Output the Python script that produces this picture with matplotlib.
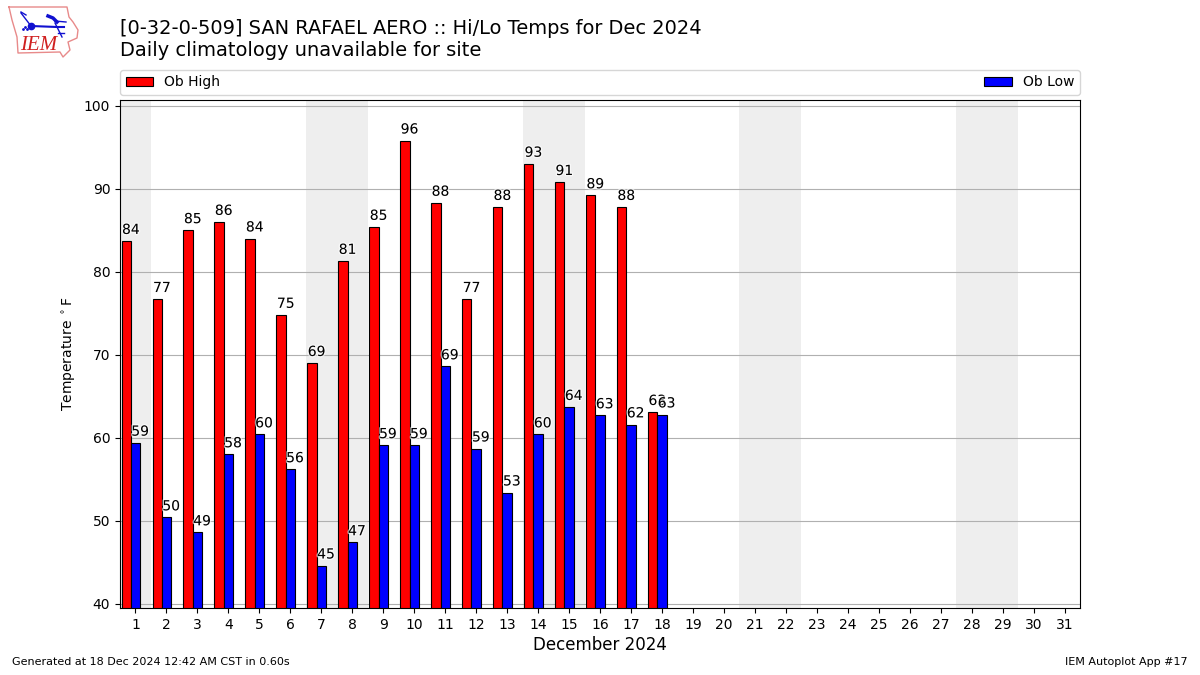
import matplotlib
matplotlib.use('Agg')
import matplotlib.pyplot as plt
import matplotlib.patheffects as PathEffects
import numpy as np

days = list(range(1, 19))
highs = [83.7, 76.7, 85.0, 86.0, 84.0, 74.8, 69.0, 81.3, 85.4, 95.8, 88.3, 76.7, 87.8, 93.0, 90.8, 89.2, 87.8, 63.1]
lows = [59.4, 50.4, 48.6, 58.0, 60.4, 56.2, 44.6, 47.4, 59.1, 59.1, 68.6, 58.7, 53.4, 60.4, 63.7, 62.7, 61.6, 62.8]
weekends = [(0.5, 1.5), (6.5, 8.5), (13.5, 15.5), (20.5, 22.5), (27.5, 29.5)]
month_days = list(range(1, 32))

fig = plt.figure(figsize=(12, 6.75), dpi=100)
ax = fig.add_axes([0.1, 0.0993, 0.8, 0.7526])

for start, end in weekends:
    ax.axvspan(start, end, color='#eeeeee', zorder=1, lw=0)

x = np.array(days)
bars1 = ax.bar(x - 0.3, highs, width=0.3, color='r', edgecolor='k', lw=0.8, label='Ob High', zorder=2)
bars2 = ax.bar(x, lows, width=0.3, color='b', edgecolor='k', lw=0.8, label='Ob Low', zorder=2)
ax.grid(True, axis='y', color='#b0b0b0', lw=0.8, zorder=3)

# value labels with a white halo, they sit on the right edge of each bar
for xpos, val in list(zip(x - 0.15, highs)) + list(zip(x + 0.15, lows)):
    t = ax.annotate('%.0f' % val, (xpos, val), xytext=(0, 3), textcoords='offset points',
                    ha='center', va='bottom', fontsize=10, zorder=4)
    t.set_path_effects([PathEffects.withStroke(linewidth=2, foreground='white', alpha=0.6)])

ax.set_xlim(0.5, 31.5)
ax.set_ylim(39.5, 100.7)
ax.set_xticks(month_days)
ax.set_xlabel('December 2024', fontsize=12, labelpad=3)
ax.set_ylabel(r'Temperature $^\circ$F', fontsize=10, labelpad=4)

handles = [bars1, bars2]
fig.legend(handles, ['Ob High', 'Ob Low'], ncol=2, mode='expand', loc='lower left',
           bbox_to_anchor=(0.1, 0.8595, 0.8, 0.04), borderaxespad=0, fontsize=10)

fig.text(0.1, 0.9575, '[0-32-0-509] SAN RAFAEL AERO :: Hi/Lo Temps for Dec 2024', fontsize=13.95, va='center')
fig.text(0.1, 0.925, 'Daily climatology unavailable for site', fontsize=13.95, va='center')
fig.text(0.01, 0.012, 'Generated at 18 Dec 2024 12:42 AM CST in 0.60s', fontsize=8, va='bottom')
fig.text(0.99, 0.012, 'IEM Autoplot App #17', fontsize=8, ha='right', va='bottom')

# logo, drawn in pixel coordinates
logo = fig.add_axes([0, 0, 1, 1], facecolor='none')
logo.set_xlim(0, 1200)
logo.set_ylim(675, 0)
logo.axis('off')
outline_x = [9, 67, 69, 73, 78, 77, 68, 70, 63, 60, 18, 17, 12, 9]
outline_y = [7, 7, 17, 22, 30, 38, 42, 50, 57, 52, 53, 37, 20, 7]
logo.plot(outline_x, outline_y, color='#e88a8a', lw=1)
logo.plot([31, 57, 64], [26, 27, 27], color='#1010d0', lw=1.5)
logo.plot([21, 31], [13, 26], color='#1010d0', lw=1)
logo.plot([21, 26], [12, 15], color='#1010d0', lw=1)
logo.plot([48, 53, 57], [16, 18, 22], color='#1010d0', lw=2.5)
logo.plot([55, 66], [21, 22], color='#1010d0', lw=1)
logo.plot([55, 60, 62], [23, 33, 37], color='#1010d0', lw=1)
logo.plot([58, 64], [33, 33], color='#1010d0', lw=1)
logo.plot([31], [26], 'o', color='#1010d0', ms=4.5)
logo.plot([23, 25, 27], [29, 27, 29], '.', color='#1010d0', ms=2)
logo.text(20, 45, 'IEM', color='#d02020', fontsize=15, family='Liberation Serif', style='italic', va='center')

fig.savefig('out.png', dpi=100)
